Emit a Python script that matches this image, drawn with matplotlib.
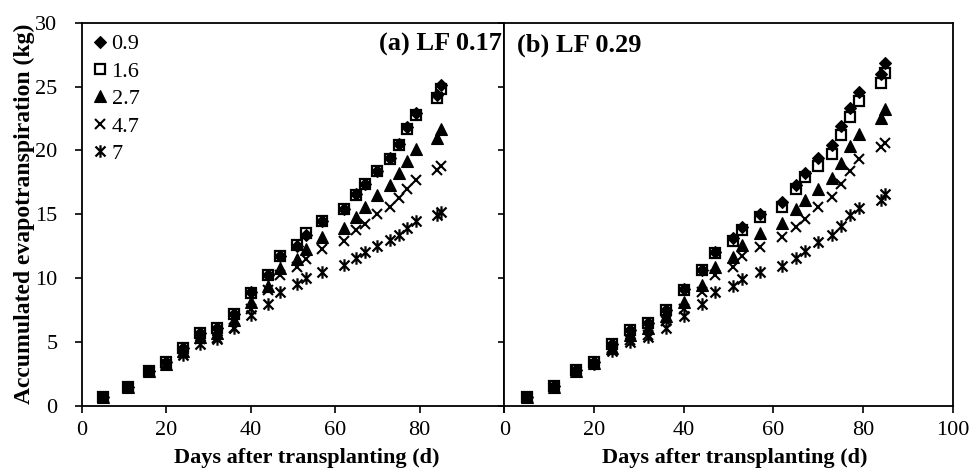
import matplotlib
matplotlib.use("Agg")
import matplotlib.pyplot as plt
from matplotlib.path import Path

plt.rcParams['font.family'] = ['Liberation Serif', 'DejaVu Serif']

days = [5, 11, 16, 20, 24, 28, 32, 36, 40, 44, 47, 51, 53, 57, 62, 65, 67, 70, 73, 75, 77, 79, 84, 85]
series_labels = ["0.9", "1.6", "2.7", "4.7", "7"]

lf017_09 = [0.7, 1.5, 2.7, 3.4, 4.5, 5.7, 6.1, 7.2, 8.9, 10.2, 11.7, 12.5, 13.4, 14.5, 15.4, 16.6, 17.4, 18.4, 19.4, 20.5, 21.8, 22.9, 24.3, 25.1]
lf017_16 = [0.7, 1.5, 2.7, 3.4, 4.5, 5.7, 6.1, 7.2, 8.8, 10.2, 11.7, 12.6, 13.5, 14.5, 15.4, 16.5, 17.4, 18.4, 19.3, 20.4, 21.7, 22.8, 24.1, 24.8]
lf017_27 = [0.7, 1.5, 2.7, 3.3, 4.3, 5.4, 5.7, 6.7, 8.1, 9.4, 10.8, 11.5, 12.3, 13.2, 13.9, 14.8, 15.6, 16.5, 17.3, 18.2, 19.2, 20.1, 21.0, 21.7]
lf017_47 = [0.7, 1.5, 2.7, 3.3, 4.1, 5.2, 5.3, 6.1, 7.6, 9.1, 10.2, 10.9, 11.5, 12.3, 12.9, 13.75, 14.2, 15.05, 15.6, 16.3, 17.0, 17.7, 18.5, 18.8]
lf017_7 = [0.7, 1.5, 2.7, 3.3, 4.0, 4.8, 5.2, 6.1, 7.1, 8.0, 8.9, 9.5, 10.0, 10.5, 11.0, 11.6, 12.05, 12.5, 13.0, 13.4, 13.9, 14.45, 14.9, 15.2]

lf029_09 = [0.7, 1.55, 2.8, 3.45, 4.8, 5.9, 6.45, 7.5, 9.15, 10.6, 12.05, 13.15, 14.0, 15.05, 15.95, 17.25, 18.2, 19.4, 20.4, 21.9, 23.35, 24.55, 26.0, 26.85]
lf029_16 = [0.7, 1.55, 2.8, 3.45, 4.8, 5.9, 6.45, 7.5, 9.1, 10.6, 12.0, 12.9, 13.8, 14.8, 15.55, 16.95, 17.9, 18.8, 19.7, 21.2, 22.6, 23.9, 25.25, 26.05]
lf029_27 = [0.7, 1.5, 2.7, 3.35, 4.5, 5.5, 6.05, 7.0, 8.15, 9.45, 10.9, 11.65, 12.6, 13.5, 14.3, 15.4, 16.1, 17.0, 17.8, 19.0, 20.35, 21.3, 22.55, 23.25]
lf029_47 = [0.7, 1.5, 2.7, 3.3, 4.5, 5.15, 5.5, 6.6, 7.6, 8.9, 10.2, 10.9, 11.7, 12.45, 13.2, 14.0, 14.65, 15.6, 16.35, 17.4, 18.4, 19.3, 20.3, 20.6]
lf029_7 = [0.7, 1.5, 2.7, 3.3, 4.25, 5.0, 5.4, 6.05, 7.0, 7.95, 8.9, 9.4, 9.95, 10.5, 10.95, 11.6, 12.15, 12.85, 13.35, 14.05, 14.9, 15.45, 16.15, 16.55]

panel_titles = ["(a) LF 0.17", "(b) LF 0.29"]
xticks = [0, 20, 40, 60, 80, 100]
yticks = [0, 5, 10, 15, 20, 25, 30]

# asterisk marker: x plus vertical bar
star_path = Path([(-1, -1), (1, 1), (-1, 1), (1, -1), (0, -1.25), (0, 1.25)],
                 [Path.MOVETO, Path.LINETO, Path.MOVETO, Path.LINETO, Path.MOVETO, Path.LINETO])

styles = [
    dict(marker='D', markersize=6.0, markerfacecolor='black', markeredgecolor='black', markeredgewidth=0.8),
    dict(marker='s', markersize=7.0, markerfacecolor='none', markeredgecolor='black', markeredgewidth=1.6),
    dict(marker='^', markersize=8.0, markerfacecolor='black', markeredgecolor='black', markeredgewidth=0.8),
    dict(marker='x', markersize=7.5, markeredgecolor='black', markeredgewidth=1.5),
    dict(marker=star_path, markersize=9.0, markeredgecolor='black', markeredgewidth=1.6),
]

fig = plt.figure(figsize=(9.72, 4.70), dpi=100)
W, H = 972, 470
y0, y1 = 405.7, 22.7
axL = fig.add_axes([81.5 / W, (H - y0) / H, (504.3 - 81.5) / W, (y0 - y1) / H])
axR = fig.add_axes([504.3 / W, (H - y0) / H, (952.7 - 504.3) / W, (y0 - y1) / H])

data = [
    [lf017_09, lf017_16, lf017_27, lf017_47, lf017_7],
    [lf029_09, lf029_16, lf029_27, lf029_47, lf029_7],
]

for i, ax in enumerate([axL, axR]):
    for vals, st, lab in zip(data[i], styles, series_labels):
        ax.plot(days, vals, linestyle='none', label=lab, **st)
    ax.set_xlim(0, 100)
    ax.set_ylim(0, 30)
    ax.set_xticks(xticks)
    ax.set_yticks(yticks)
    ax.tick_params(direction='out', length=5.3, width=1.2, labelsize=16, colors='black')
    ax.tick_params(axis='x', pad=6)
    ax.tick_params(axis='y', pad=12)
    for sp in ax.spines.values():
        sp.set_linewidth(1.3)
        sp.set_color('black')
    ax.set_xlabel("Days after transplanting (d)", fontsize=16, fontweight='bold')

axL.xaxis.set_label_coords(0.533, -0.11)
axR.xaxis.set_label_coords(0.514, -0.11)

axL.set_xticklabels(["0", "20", "40", "60", "80", ""])
axR.set_yticklabels([])
axR.tick_params(axis='y', length=4)
axL.set_ylabel("Accumulated evapotranspiration (kg)", fontsize=17, fontweight='bold', labelpad=0.5)

axL.text(0.995, 0.942, panel_titles[0], transform=axL.transAxes, ha='right', va='center',
         fontsize=19, fontweight='bold')
axR.text(0.028, 0.942, panel_titles[1], transform=axR.transAxes, ha='left', va='center',
         fontsize=19, fontweight='bold')

leg = axL.legend(loc='upper left', frameon=False, fontsize=16, handlelength=0.7,
                 handletextpad=0.15, labelspacing=0.31, borderaxespad=0.3, borderpad=0.2,
                 markerscale=1.0)

fig.savefig("out.png", dpi=100)
